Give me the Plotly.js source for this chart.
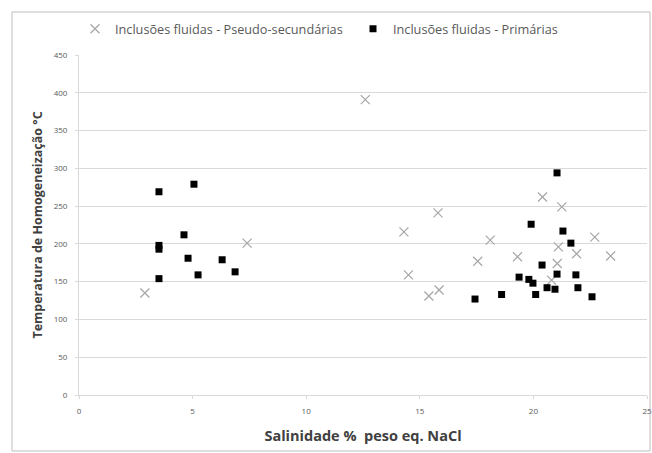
<!DOCTYPE html>
<html><head><meta charset="utf-8">
<script src="https://cdn.plot.ly/plotly-3.0.1.min.js"></script>
<style>body{margin:0;padding:0;background:#fff}#chart{width:652px;height:453px}</style>
</head><body><div id="chart"></div>
<script>
var pseudoName = "Inclusões fluidas - Pseudo-secundárias";
var primName = "Inclusões fluidas - Primárias";
var pseudoX = [2.9, 7.4, 12.6, 14.3, 14.5, 15.4, 15.85, 15.8, 17.55, 18.1, 19.3, 20.4, 21.25, 21.1, 21.9, 22.7, 23.4, 21.05, 20.8];
var pseudoY = [135, 201, 391, 216, 159, 131, 139, 241, 177, 205, 183, 262, 249, 196, 187, 209, 184, 174, 152];
var primX = [3.52, 5.06, 4.62, 3.52, 3.52, 4.8, 6.3, 5.24, 6.87, 3.52, 21.04, 19.9, 21.3, 21.65, 20.38, 21.04, 21.87, 19.37, 19.8, 19.98, 20.6, 20.95, 21.96, 20.1, 18.6, 17.43, 22.58];
var primY = [269, 279, 212, 198, 193, 181, 179, 159, 163, 154, 294, 226, 217, 201, 172, 160, 159, 156, 153, 148, 142, 140, 142, 133, 133, 127, 130];
var xTitle = "Salinidade %  peso eq. NaCl";
var yTitle = "Temperatura de Homogeneização °C";

var font = "Open Sans, Liberation Sans, sans-serif";
var data = [
  {type:'scatter', mode:'markers', name:pseudoName, x:pseudoX, y:pseudoY,
   marker:{symbol:'x-thin-open', size:9, color:'#a6a6a6', line:{width:1.2, color:'#a6a6a6'}}},
  {type:'scatter', mode:'markers', name:primName, x:primX, y:primY,
   marker:{symbol:'square', size:7, color:'#000000'}}
];
var layout = {
  width:652, height:453,
  margin:{l:79, r:5, t:55, b:58},
  paper_bgcolor:'#ffffff', plot_bgcolor:'#ffffff',
  showlegend:true,
  legend:{orientation:'h', xref:'container', x:75/652, xanchor:'left', yref:'container', y:1-14/453, yanchor:'top',
    font:{family:font, size:12.7, color:'#595959'}, itemwidth:30, entrywidth:233, tracegroupgap:0, traceorder:'normal'},
  xaxis:{range:[0,25], dtick:5, tick0:0, showgrid:false, zeroline:false,
    showline:true, linecolor:'#d9d9d9', linewidth:1, ticks:'outside', ticklen:3, tickcolor:'#d9d9d9',
    ticklabelstandoff:5,
    tickfont:{family:font, size:8, color:'#595959'},
    title:{text:xTitle, font:{family:font, size:14.5, color:'#404040', weight:'bold'}, standoff:16}},
  yaxis:{range:[0,450], dtick:50, tick0:0, showgrid:true, gridcolor:'#d9d9d9', gridwidth:1, zeroline:false,
    showline:true, linecolor:'#d9d9d9', linewidth:1, ticks:'outside', ticklen:3, tickcolor:'#d9d9d9',
    ticklabelstandoff:6,
    tickfont:{family:font, size:8, color:'#595959'},
    title:{text:yTitle, font:{family:font, size:12.5, color:'#404040', weight:'bold'}, standoff:8}},
  shapes:[{type:'rect', xref:'paper', yref:'paper',
    x0:(12-79)/568, x1:(650-79)/568, y0:(395-451)/340, y1:(395-12)/340,
    line:{color:'#bfbfbf', width:1}, fillcolor:'rgba(0,0,0,0)', layer:'below'}]
};
Plotly.newPlot('chart', data, layout, {displayModeBar:false, staticPlot:true});
</script></body></html>
